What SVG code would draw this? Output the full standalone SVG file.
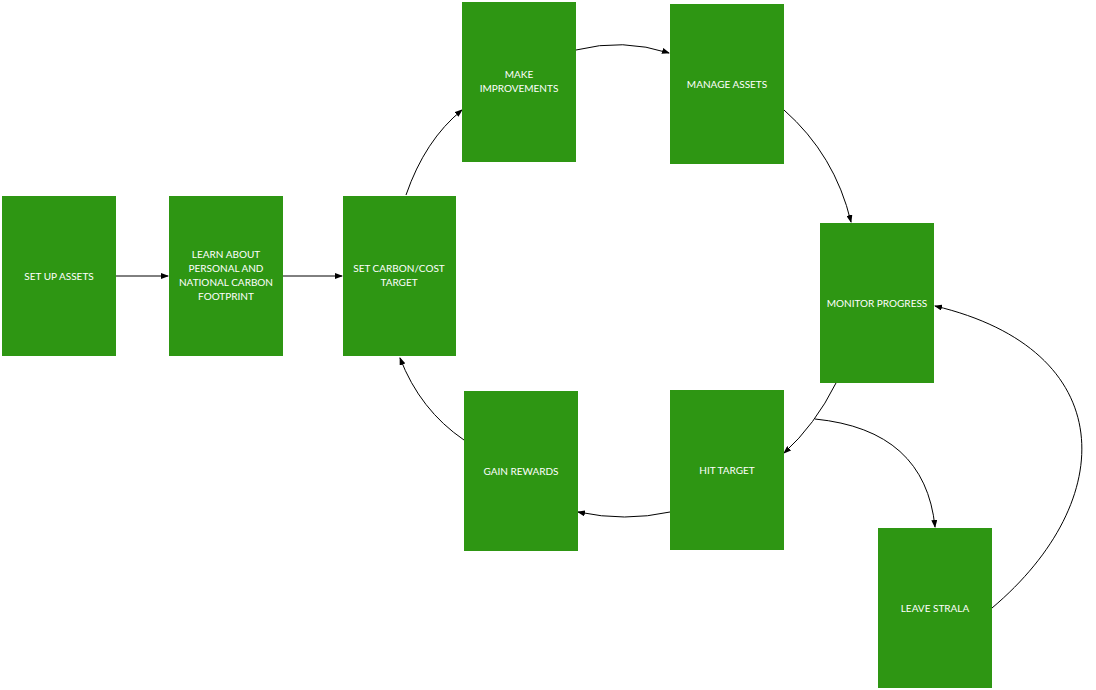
<svg xmlns="http://www.w3.org/2000/svg" width="1096" height="690" viewBox="0 0 1096 690">
<style>
.n{fill:#2e9613}
.t{fill:#fff;font-family:Lato,"Liberation Sans",sans-serif;font-size:10px;text-anchor:middle}
.c path{fill:none;stroke:#000;stroke-width:1;marker-end:url(#a)}
</style>
<defs><marker id="a" markerWidth="8" markerHeight="6" refX="7" refY="3" orient="auto" markerUnits="userSpaceOnUse"><path d="M0,0L8,3L0,6z" fill="#000"/></marker></defs>
<rect width="1096" height="690" fill="#fff"/>
<g class="c">
<path d="M116,276H168"/>
<path d="M283,276H342"/>
<path d="M406,195Q425,140 462,110"/>
<path d="M576,50Q623,38 669,53"/>
<path d="M784,110Q835,155 851,222"/>
<path d="M836,383Q815,425 784,453"/>
<path d="M815,419Q925,430 935,527" style="marker-end:url(#a)"/>
<path d="M670,512Q625,522 578,512"/>
<path d="M464,440Q420,410 400,358"/>
<path d="M992,608C1120,500 1120,350 935,306"/>
</g>
<g id="n1"><rect class="n" x="2" y="196" width="114" height="160"/><text class="t" x="59" y="280">SET UP ASSETS</text></g>
<g id="n2"><rect class="n" x="169" y="196" width="114" height="160"/><text class="t" x="226" y="258">LEARN ABOUT</text><text class="t" x="226" y="272">PERSONAL AND</text><text class="t" x="226" y="286">NATIONAL CARBON</text><text class="t" x="226" y="300">FOOTPRINT</text></g>
<g id="n3"><rect class="n" x="343" y="196" width="113" height="160"/><text class="t" x="399" y="272">SET CARBON/COST</text><text class="t" x="399" y="286">TARGET</text></g>
<g id="n4"><rect class="n" x="462" y="2" width="114" height="160"/><text class="t" x="519" y="78">MAKE</text><text class="t" x="519" y="92">IMPROVEMENTS</text></g>
<g id="n5"><rect class="n" x="670" y="4" width="114" height="160"/><text class="t" x="727" y="88">MANAGE ASSETS</text></g>
<g id="n6"><rect class="n" x="820" y="223" width="114" height="160"/><text class="t" x="877" y="307">MONITOR PROGRESS</text></g>
<g id="n7"><rect class="n" x="670" y="390" width="114" height="160"/><text class="t" x="727" y="474">HIT TARGET</text></g>
<g id="n8"><rect class="n" x="464" y="391" width="114" height="160"/><text class="t" x="521" y="475">GAIN REWARDS</text></g>
<g id="n9"><rect class="n" x="878" y="528" width="114" height="160"/><text class="t" x="935" y="612">LEAVE STRALA</text></g>
</svg>
